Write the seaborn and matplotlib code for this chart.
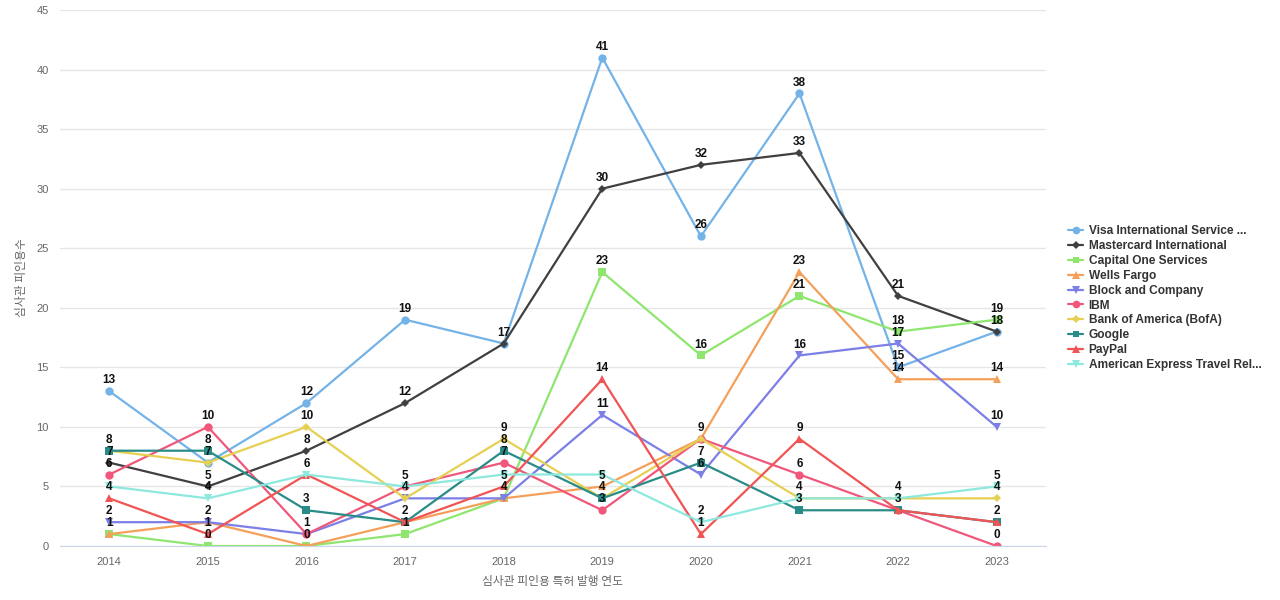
#Libraries
import matplotlib
matplotlib.use("Agg")
import matplotlib.pyplot as plt
import pandas as pd
import seaborn as sns

#Chart data
years = [2014, 2015, 2016, 2017, 2018, 2019, 2020, 2021, 2022, 2023]
companies = ["Visa International Service ...", "Mastercard International", "Capital One Services",
             "Wells Fargo", "Block and Company", "IBM", "Bank of America (BofA)", "Google",
             "PayPal", "American Express Travel Rel..."]
visa = [13, 7, 12, 19, 17, 41, 26, 38, 15, 18]
mastercard = [7, 5, 8, 12, 17, 30, 32, 33, 21, 18]
capital_one = [1, 0, 0, 1, 4, 23, 16, 21, 18, 19]
wells_fargo = [1, 2, 0, 2, 4, 5, 9, 23, 14, 14]
block = [2, 2, 1, 4, 4, 11, 6, 16, 17, 10]
ibm = [6, 10, 1, 5, 7, 3, 9, 6, 3, 0]
bofa = [8, 7, 10, 4, 9, 4, 9, 4, 4, 4]
google = [8, 8, 3, 2, 8, 4, 7, 3, 3, 2]
paypal = [4, 1, 6, 2, 5, 14, 1, 9, 3, 2]
amex = [5, 4, 6, 5, 6, 6, 2, 4, 4, 5]
series = [visa, mastercard, capital_one, wells_fargo, block, ibm, bofa, google, paypal, amex]

colors = ["#74b3e8", "#404040", "#8ee66f", "#f5a05a", "#7b7fe6",
          "#f0577a", "#e5d051", "#2a8c88", "#f05454", "#8de8de"]
markers = ["o", "D", "s", "^", "v", "o", "D", "s", "^", "v"]
msize = {"o": 6, "D": 4.2, "s": 5.5, "^": 6, "v": 6}

#Build a long table for seaborn
rows = []
for name, vals in zip(companies, series):
    for yr, v in zip(years, vals):
        rows.append({"company": name, "year": yr, "count": v})
df = pd.DataFrame(rows)

sns.set_style("white")
plt.rcParams['font.family'] = ['Noto Sans CJK KR', 'DejaVu Sans']

fig = plt.figure(figsize=(12.8, 6), dpi=100)
ax = fig.add_axes([60 / 1280, 54 / 600, 986 / 1280, 536 / 600])

sns.lineplot(data=df, x="year", y="count", hue="company", style="company",
             hue_order=companies, style_order=companies,
             palette=dict(zip(companies, colors)), markers=dict(zip(companies, markers)),
             dashes=False, linewidth=1.6, markersize=6, markeredgewidth=0,
             legend=False, ax=ax)
#smaller diamonds, like the reference
for ln in ax.lines:
    ln.set_markersize(msize.get(ln.get_marker(), 6))

#Point labels: skip the ones that sit on top of another label
hidden = {(9, 2014), (9, 2018), (9, 2019)}
for yr_i, yr in enumerate(years):
    placed = []
    for s_i, vals in enumerate(series):
        v = vals[yr_i]
        if v in placed or (s_i, yr) in hidden:
            continue
        placed.append(v)
        ax.annotate(str(v), (yr, v), xytext=(0, 3.5), textcoords="offset points",
                    ha="center", va="bottom", fontsize=8.5, fontweight="bold", color="#111111",
                    family=["Liberation Sans", "DejaVu Sans"])

ax.set_xlim(2013.5, 2023.5)
ax.set_ylim(0, 45)
ax.set_xticks(years)
ax.set_yticks(range(0, 46, 5))
ax.tick_params(axis="both", length=0, labelsize=8, labelcolor="#666666", pad=8)
for lbl in ax.get_xticklabels() + ax.get_yticklabels():
    lbl.set_family(["Liberation Sans", "DejaVu Sans"])
ax.grid(axis="y", color="#e6e6e6", linewidth=1)
ax.set_axisbelow(True)
for side in ["left", "right", "top"]:
    ax.spines[side].set_visible(False)
ax.spines["bottom"].set_color("#ccd6eb")
ax.set_xlabel("심사관 피인용 특허 발행 연도", fontsize=8.5, color="#666666", labelpad=6)
ax.set_ylabel("심사관 피인용수", fontsize=8.5, color="#666666", labelpad=6)

#Legend on the right
handles = [plt.Line2D([], [], color=c, marker=m, markersize=msize[m] - 0.5, markeredgewidth=0, linewidth=1.6)
           for c, m in zip(colors, markers)]
leg = fig.legend(handles, companies, loc="center left", bbox_to_anchor=(1057 / 1280, 0.503),
                 frameon=False, handlelength=1.3, handletextpad=0.45, labelspacing=0.24,
                 prop={"size": 8.6, "weight": "bold", "family": ["Liberation Sans", "DejaVu Sans"]})
for t in leg.get_texts():
    t.set_color("#333333")

fig.savefig("out.png", dpi=100)
